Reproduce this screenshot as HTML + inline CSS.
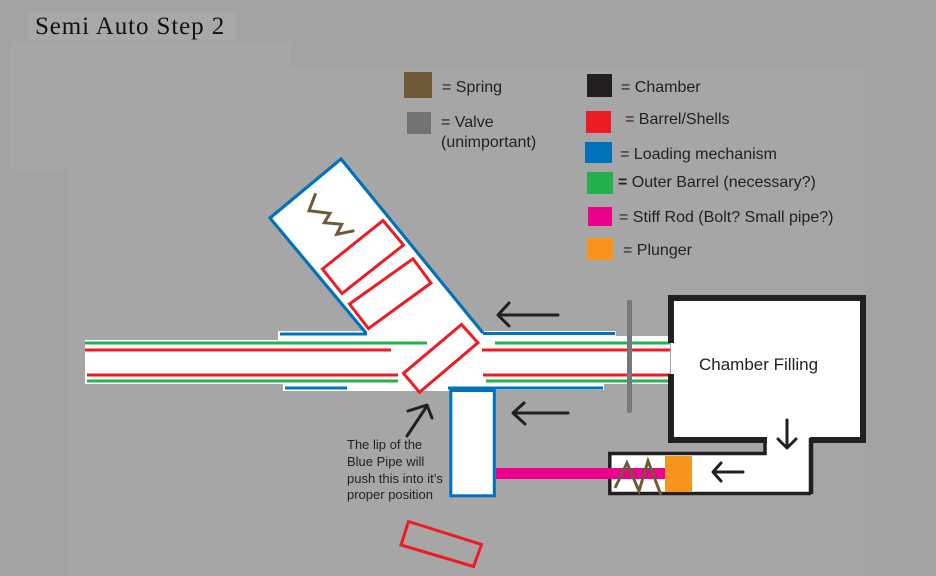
<!DOCTYPE html>
<html>
<head>
<meta charset="utf-8">
<style>
  html,body{margin:0;padding:0;background:#a3a3a3;}
  svg{display:block;}
  .lg{font-family:"Liberation Sans",sans-serif;font-size:16px;fill:#231f20;}
</style>
</head>
<body>
<svg width="936" height="576" viewBox="0 0 936 576" xmlns="http://www.w3.org/2000/svg">
  <!-- background -->
  <rect x="0" y="0" width="936" height="576" fill="#a3a3a3"/>
  <polygon points="10,42 290,42 290,67 865,67 865,576 68,576 68,170 10,170" fill="#a6a6a6"/>
  <rect x="28" y="12" width="208" height="28" fill="#a8a8a8"/>

  <!-- title -->
  <text x="35" y="34" font-family="'Liberation Serif',serif" font-size="25" letter-spacing="0.9" fill="#111">Semi Auto Step 2</text>

  <!-- legend swatches -->
  <rect x="404" y="72" width="28" height="26" fill="#6f5a37"/>
  <rect x="407" y="112" width="24" height="22" fill="#737376"/>
  <rect x="587" y="74" width="25" height="23" fill="#231f20"/>
  <rect x="586" y="111" width="25" height="22" fill="#ed1c24"/>
  <rect x="585" y="142" width="27" height="21" fill="#0072bc"/>
  <rect x="587" y="172" width="26" height="22" fill="#22b14c"/>
  <rect x="588" y="207" width="24" height="19" fill="#ec008c"/>
  <rect x="587" y="238" width="26" height="22" fill="#f7941d"/>

  <!-- legend text -->
  <text class="lg" x="442" y="92">= Spring</text>
  <text class="lg" x="441" y="127">= Valve</text>
  <text class="lg" x="441" y="147">(unimportant)</text>
  <text class="lg" x="621" y="92">= Chamber</text>
  <text class="lg" x="625" y="124">= Barrel/Shells</text>
  <text class="lg" x="620" y="159">= Loading mechanism</text>
  <text class="lg" x="618" y="187"><tspan font-weight="bold">=</tspan> Outer Barrel (necessary?)</text>
  <text class="lg" x="619" y="222">= Stiff Rod (Bolt? Small pipe?)</text>
  <text class="lg" x="623" y="255">= Plunger</text>

  <!-- white areas -->
  <polygon points="270,218 341,159 483,333 483,340 366,340 366,333" fill="#fff"/>
  <rect x="85" y="340" width="585" height="44" fill="#fff"/>
  <rect x="278" y="331" width="90" height="10" fill="#fff"/>
  <rect x="482" y="331" width="134" height="10" fill="#fff"/>
  <rect x="615" y="336" width="55" height="6" fill="#fff"/>
  <rect x="283" y="383" width="166" height="8" fill="#fff"/>
  <rect x="449" y="383" width="155" height="7" fill="#fff"/>
  <rect x="671" y="298" width="192" height="142" fill="#fff"/>
  <rect x="609" y="453" width="203" height="40" fill="#fff"/>
  <rect x="766" y="436" width="45" height="20" fill="#fff"/>

  <!-- blue pipe -->
  <rect x="450.8" y="390.5" width="43.5" height="105.3" fill="#fff" stroke="#0072bc" stroke-width="3"/>

  <!-- magazine outline -->
  <path d="M366,333 L270,218 L341,159 L483,333" fill="none" stroke="#0072bc" stroke-width="3.2" stroke-linejoin="miter"/>
  <path d="M280,334 H367 M483,333.5 H615 M285,388 H347 M448,388 H603" fill="none" stroke="#0072bc" stroke-width="3"/>

  <!-- barrel lines -->
  <g fill="none" stroke-width="3">
    <path d="M85,343 H427 M495,343 H670 M87,381 H398 M486,381 H670" stroke="#22b14c"/>
    <path d="M85,350 H391 M482,350 H670 M87,375 H398 M483,375 H670" stroke="#ed1c24"/>
  </g>

  <!-- spring in magazine -->
  <polyline points="315.7,193.3 309,210.7 330,213.3 324.3,222.7 341.7,224.3 336.7,234.3 354.3,230.7" fill="none" stroke="#6d5a36" stroke-width="3" stroke-linejoin="miter"/>

  <!-- shells -->
  <g fill="none" stroke="#ed1c24" stroke-width="3">
    <polygon points="322.5,269 383,220.5 403.5,245 342,293.5"/>
    <polygon points="349.5,304 413,258.8 431,283 368.5,328.5" />
    <polygon points="403.5,373.3 461.5,324.5 478,342.7 419.5,392.3" fill="#fff"/>
    <polygon points="408.5,521.5 481.5,544.5 473.5,566.5 401,545"/>
  </g>

  <!-- valve -->
  <rect x="627" y="300" width="5" height="113" rx="2" fill="#77787b"/>

  <!-- chamber walls -->
  <path d="M671,343 V298 H863 V440 H810 M767,440 H671 V374" fill="none" stroke="#231f20" stroke-width="6" stroke-linejoin="miter"/>
  <!-- plunger tube -->
  <path d="M765,438 V453.5 H609.8 V493.5 H811" fill="none" stroke="#231f20" stroke-width="3.5"/>
  <path d="M811,438 V494" fill="none" stroke="#231f20" stroke-width="4.5"/>

  <!-- stiff rod -->
  <rect x="496" y="468" width="170" height="11" fill="#ec008c"/>
  <!-- spring in tube -->
  <polyline points="615,488 627,463 639,491 648,461 661,495" fill="none" stroke="#6d5a36" stroke-width="3"/>
  <!-- plunger -->
  <rect x="665" y="456" width="27" height="36" fill="#f7941d"/>

  <!-- chamber text -->
  <text x="699" y="370" font-family="'Liberation Sans',sans-serif" font-size="17" fill="#231f20">Chamber Filling</text>

  <!-- arrows -->
  <g fill="none" stroke="#231f20" stroke-width="3" stroke-linecap="round" stroke-linejoin="round">
    <path d="M558,315 H499 M509,303 L498,315 L509,326"/>
    <path d="M568,413 H514 M524,403 L513,413 L525,424"/>
    <path d="M407,436 L427,406 M408,411 L427,405 L432,418"/>
    <path d="M787,420 V448 M778,439 L787,448 L796,439"/>
    <path d="M743,472 H714 M721,463 L713,472 L721,481"/>
  </g>

  <!-- note -->
  <g font-family="'Liberation Sans',sans-serif" font-size="13" fill="#231f20">
    <text x="347" y="449">The lip of the</text>
    <text x="347" y="466">Blue Pipe will</text>
    <text x="347" y="483">push this into it’s</text>
    <text x="347" y="499">proper position</text>
  </g>
</svg>
</body>
</html>
